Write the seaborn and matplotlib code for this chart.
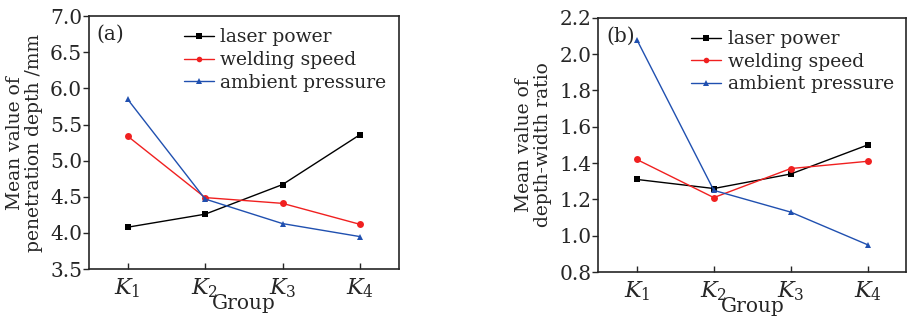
import pandas as pd
import matplotlib.pyplot as plt
import seaborn as sns

# Group labels (K1..K4) and the three factors
groups = ["$K_1$", "$K_2$", "$K_3$", "$K_4$"]
factors = ["laser power", "welding speed", "ambient pressure"]

# (a) mean penetration depth /mm
depth_laser = [4.08, 4.26, 4.67, 5.36]
depth_speed = [5.34, 4.49, 4.41, 4.12]
depth_pressure = [5.85, 4.47, 4.13, 3.95]

# (b) mean depth-width ratio
ratio_laser = [1.31, 1.26, 1.34, 1.50]
ratio_speed = [1.42, 1.21, 1.37, 1.41]
ratio_pressure = [2.08, 1.25, 1.13, 0.95]

colors = {"laser power": "#000000", "welding speed": "#f02020", "ambient pressure": "#2050b0"}
markers = {"laser power": "s", "welding speed": "o", "ambient pressure": "^"}


def long_table(series):
    rows = []
    for factor, vals in zip(factors, series):
        for i, v in enumerate(vals):
            rows.append({"pos": i + 1, "factor": factor, "value": v})
    return pd.DataFrame(rows)


df_a = long_table([depth_laser, depth_speed, depth_pressure])
df_b = long_table([ratio_laser, ratio_speed, ratio_pressure])

sns.set_style("ticks")
plt.rcParams["font.family"] = ["DejaVu Serif"]
plt.rcParams["mathtext.fontset"] = "dejavuserif"

fig = plt.figure(figsize=(9.08, 3.25), dpi=100)
ax_a = fig.add_axes([0.098, 0.172, 0.341, 0.778])
ax_b = fig.add_axes([0.659, 0.163, 0.339, 0.782])

panels = [
    (ax_a, df_a, (3.5, 7.0), [3.5, 4.0, 4.5, 5.0, 5.5, 6.0, 6.5, 7.0],
     "Mean value of\npenetration depth /mm", "(a)"),
    (ax_b, df_b, (0.8, 2.2), [0.8, 1.0, 1.2, 1.4, 1.6, 1.8, 2.0, 2.2],
     "Mean value of\ndepth-width ratio", "(b)"),
]

for ax, df, ylim, yticks, ylabel, tag in panels:
    sns.lineplot(data=df, x="pos", y="value", hue="factor", style="factor",
                 palette=colors, markers=markers, dashes=False, markersize=5,
                 linewidth=1.0, markeredgewidth=0, ax=ax)
    ax.set_xlim(0.5, 4.5)
    ax.set_ylim(*ylim)
    ax.set_xticks([1, 2, 3, 4])
    ax.set_xticklabels(groups, fontsize=16)
    ax.set_yticks(yticks)
    ax.set_yticklabels([f"{t:.1f}" for t in yticks], fontsize=14.5)
    ax.tick_params(axis="x", direction="in", length=4, width=1, pad=5)
    ax.tick_params(axis="y", direction="out", length=4, width=1, pad=1)
    for sp in ax.spines.values():
        sp.set_linewidth(1.2)
    ax.set_xlabel("Group", fontsize=14.5, labelpad=-4)
    ax.set_ylabel(ylabel, fontsize=13.5, labelpad=5, linespacing=1.1)
    ax.text(0.025, 0.965, tag, transform=ax.transAxes, fontsize=14.5, va="top", ha="left")
    ax.legend(loc="upper right", frameon=False, fontsize=13.5, handlelength=1.6,
              handletextpad=0.35, labelspacing=0.25, borderaxespad=0.25,
              markerscale=0.8, title=None)

fig.savefig("out.png", dpi=100)
